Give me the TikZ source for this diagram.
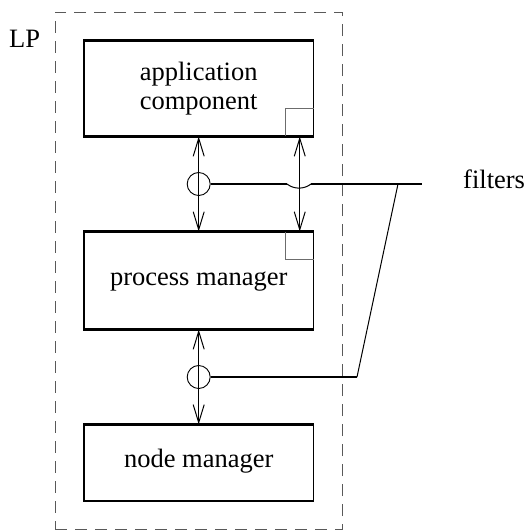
\documentclass[tikz,border=0pt]{standalone}
\usepackage{fontspec}
\setmainfont{Liberation Serif}
\usetikzlibrary{arrows.meta}
\begin{document}
\begin{tikzpicture}[x=1pt,y=-1pt,
  font=\fontsize{26.5}{29}\selectfont,
  >={Straight Barb[length=18pt,width=11pt]},
  box/.style={draw, line width=1.2pt, minimum width=229.3pt, inner sep=0pt},
  edge/.style={line width=2pt},
  corner/.style={minimum size=28pt, inner sep=0pt},
  cornerline/.style={draw=gray!85!black, line width=1pt},
  txt/.style={anchor=base, inner sep=0pt},
  port/.style={circle, draw, line width=0.9pt, minimum size=23pt, inner sep=0pt},
  fline/.style={line width=2pt},
  thinline/.style={line width=1pt},
  arr/.style={<->, line width=1pt}
]
\useasboundingbox (0,0) rectangle (525,531);

% LP container
\node[draw=gray!70!black, dash pattern=on 12pt off 8pt, line width=1pt,
      minimum width=287pt, minimum height=517pt, inner sep=0pt] (lp) at (198.5,270.5) {};
\node[anchor=base west, inner sep=0pt] (lplabel) at (9,47) {LP};

% boxes
\node[box, minimum height=95pt] (app) at (198.7,88.5) {};
\node[box, minimum height=97pt] (pm) at (198.7,280.5) {};
\node[box, minimum height=75.5pt] (nm) at (198.7,462.7) {};

% corner squares
\node[corner, anchor=south east] (sq1) at (app.south east) {};
\node[corner, anchor=north east] (sq2) at (pm.north east) {};
\draw[cornerline] (sq1.south west) -- (sq1.north west) -- (sq1.north east);
\draw[cornerline] (sq2.north west) -- (sq2.south west) -- (sq2.south east);

% thick top/bottom edges
\foreach \b in {app,pm,nm}{
  \draw[edge] (\b.north west) -- (\b.north east);
  \draw[edge] (\b.south west) -- (\b.south east);
}

% texts
\node[txt] (t1) at (198.7,80) {application};
\node[txt] (t2) at (198.7,109) {component};
\node[txt] (t3) at (198.7,285) {process manager};
\node[txt] (t4) at (198.7,467) {node manager};
\node[anchor=base west, inner sep=0pt] (flabel) at (463,188) {filters};

% ports
\node[port] (c1) at (app.south |- 0,184) {};
\node[port] (c2) at (pm.south |- 0,377) {};

% arrows
\draw[arr] (app.south) -- (pm.north);
\draw[arr] (sq1.south) -- (sq2.north);
\draw[arr] (pm.south) -- (nm.north);

% filter lines
\coordinate (jl) at (287,184);
\coordinate (jr) at (311,184);
\coordinate (knee) at (398,184);
\coordinate (fend) at (422,184);
\coordinate (f2) at (357,377);
\draw[fline] (c1.east) -- (jl);
\draw[thinline] (jl) .. controls (294,189.5) and (304,189.5) .. (jr);
\draw[fline] (jr) -- (fend);
\draw[thinline] (knee) -- (f2);
\draw[fline] (c2.east) -- (f2);
\end{tikzpicture}
\end{document}
